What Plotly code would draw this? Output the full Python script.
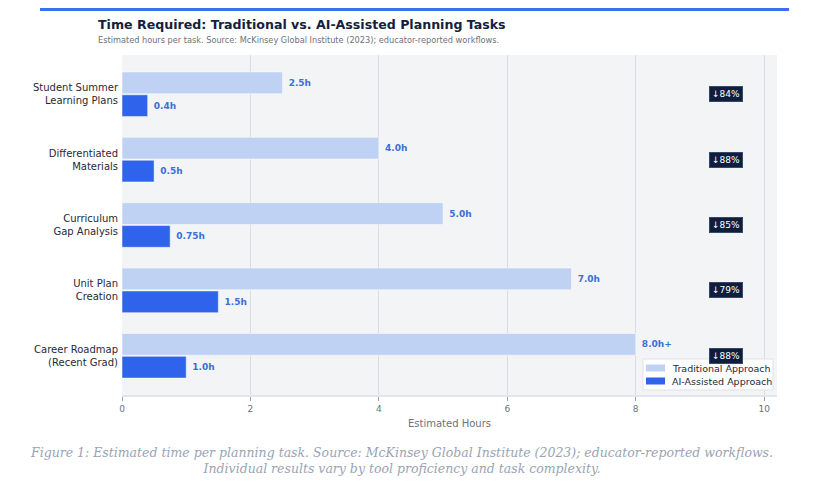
import plotly.graph_objects as go

# Data
tasks = ["Student Summer<br>Learning Plans", "Differentiated<br>Materials",
         "Curriculum<br>Gap Analysis", "Unit Plan<br>Creation",
         "Career Roadmap<br>(Recent Grad)"]
traditional_hours = [2.5, 4.0, 5.0, 7.0, 8.0]
traditional_labels = ["2.5h", "4.0h", "5.0h", "7.0h", "8.0h+"]
ai_hours = [0.4, 0.5, 0.75, 1.5, 1.0]
ai_labels = ["0.4h", "0.5h", "0.75h", "1.5h", "1.0h"]
reduction_pct = [84, 88, 85, 79, 88]
series_names = ["Traditional Approach", "AI-Assisted Approach"]

BLUE = "#2f63eb"
LIGHT = "#bfd2f3"
NAVY = "#0f1e3d"

# page body has an 8px margin, so the figure is drawn 8px smaller
W, H = 821, 476
L, R, T, B = 114, 52, 47, 89
PW, PH = W - L - R, H - T - B


def px(x):  # page pixel -> paper x
    return (x - 8 - L) / PW


def py(y):  # page pixel -> paper y
    return 1 - (y - 8 - T) / PH


label_font = dict(color="#3b6fd8", size=9, family="DejaVu Sans", weight="bold")

fig = go.Figure()
fig.add_trace(go.Bar(
    y=tasks, x=traditional_hours, orientation="h", name=series_names[0],
    marker=dict(color=LIGHT, line=dict(color="rgba(255,255,255,0.5)", width=1)),
    text=[" " + s for s in traditional_labels], textposition="outside",
    textfont=label_font, cliponaxis=False, showlegend=False,
))
fig.add_trace(go.Bar(
    y=tasks, x=ai_hours, orientation="h", name=series_names[1],
    marker=dict(color=BLUE, line=dict(color="rgba(255,255,255,0.5)", width=1)),
    text=[" " + s for s in ai_labels], textposition="outside",
    textfont=label_font, cliponaxis=False, showlegend=False,
))

# reduction badges
for t, p in zip(tasks, reduction_pct):
    fig.add_annotation(x=9.4, y=t, text=f"↓{p}%", showarrow=False,
                       font=dict(color="white", size=9, family="DejaVu Sans"),
                       bgcolor=NAVY, bordercolor="#3a4868", borderpad=2, borderwidth=1)

fig.update_layout(
    width=W, height=H,
    margin=dict(l=L, r=R, t=T, b=B),
    paper_bgcolor="white", plot_bgcolor="#f3f4f6",
    barmode="group", bargap=0.3, bargroupgap=0.05,
    font=dict(family="DejaVu Sans", color="#1f2937"),
    title=dict(text="<b>Time Required: Traditional vs. AI-Assisted Planning Tasks</b>",
               x=90 / W, xanchor="left", y=1 - 17 / H, yanchor="middle",
               font=dict(size=12.6, color="#14213d")),
    xaxis=dict(range=[0, 10.2], dtick=2, showgrid=True, gridcolor="#d9dde3",
               zeroline=False, ticks="outside", ticklen=4, tickcolor="#9ca3af",
               tickfont=dict(size=9, color="#6b7280"),
               title=dict(text="Estimated Hours", font=dict(size=10, color="#6b7280"),
                          standoff=7),
               showline=True, linecolor="#e2e5ea", linewidth=2),
    yaxis=dict(range=[4.6, -0.6], showgrid=False, ticklabelstandoff=3,
               tickfont=dict(size=10, color="#1f2937")),
)

# custom compact legend (bottom right, inside plot)
fig.add_shape(type="rect", xref="paper", yref="paper", layer="above",
              x0=px(643), x1=px(773), y0=py(390), y1=py(359),
              fillcolor="rgba(255,255,255,0.85)", line=dict(color="#dfe3e8", width=1))
for name, color, yc in zip(series_names, [LIGHT, BLUE], [368, 381]):
    fig.add_shape(type="rect", xref="paper", yref="paper", layer="above",
                  x0=px(646), x1=px(665), y0=py(yc + 3.5), y1=py(yc - 3.5),
                  fillcolor=color, line=dict(width=0))
    fig.add_annotation(xref="paper", yref="paper", x=px(670), y=py(yc),
                       xanchor="left", yanchor="middle", showarrow=False,
                       text=name, font=dict(size=9.5, color="#1f2937"))

# subtitle
fig.add_annotation(xref="paper", yref="paper",
                   x=(88 - L) / PW, y=1 + (T - 32) / PH,
                   xanchor="left", yanchor="middle", showarrow=False,
                   text="Estimated hours per task. Source: McKinsey Global Institute (2023); educator-reported workflows.",
                   font=dict(size=8.2, color="#6b7280"))

# caption below the chart
fig.add_annotation(xref="paper", yref="paper",
                   x=(393 - L) / PW, y=-(452 - (T + PH)) / PH,
                   xanchor="center", yanchor="middle", showarrow=False,
                   text="Figure 1: Estimated time per planning task. Source: McKinsey Global Institute (2023); educator-reported workflows.<br>Individual results vary by tool proficiency and task complexity.",
                   font=dict(size=12.5, color="#9aa3b5", family="DejaVu Serif", style="italic"))

# top accent line
fig.add_shape(type="line", xref="paper", yref="paper",
              x0=(32 - L) / PW, x1=(781 - L) / PW,
              y0=1 + (T - 1.5) / PH, y1=1 + (T - 1.5) / PH,
              line=dict(color="#3b6ff0", width=3))

fig.write_html("out.html")
